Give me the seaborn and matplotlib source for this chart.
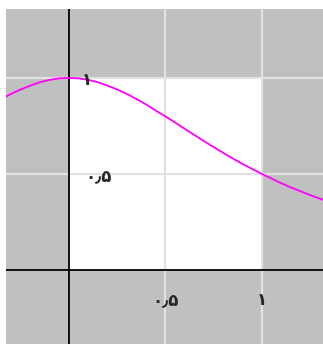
import numpy as np
import pandas as pd
import matplotlib
matplotlib.use('Agg')
import matplotlib.pyplot as plt
import seaborn as sns
from matplotlib.patches import Rectangle

# curve values
xs = [-0.35, -0.3, -0.25, -0.2, -0.15, -0.1, -0.05, 0.0, 0.05, 0.1,
      0.15, 0.2, 0.25, 0.3, 0.35, 0.4, 0.45, 0.5, 0.55, 0.6,
      0.65, 0.7, 0.75, 0.8, 0.85, 0.9, 0.95, 1.0, 1.05, 1.1,
      1.15, 1.2, 1.25, 1.3, 1.35]
ys = [0.89, 0.917, 0.94, 0.96, 0.978, 0.99, 0.998, 1.0, 0.998, 0.99,
      0.978, 0.96, 0.94, 0.917, 0.89, 0.862, 0.83, 0.80, 0.768, 0.735,
      0.703, 0.671, 0.64, 0.61, 0.58, 0.552, 0.526, 0.50, 0.476, 0.452,
      0.43, 0.41, 0.39, 0.372, 0.354]
tick_vals = [0.5, 1.0]
tick_text = ['۰٫۵', '۱']

sns.set_style('white')
plt.rcParams['font.family'] = ['DejaVu Sans']

fig = plt.figure(figsize=(3.23, 3.44), dpi=100)
ax = fig.add_axes([6 / 323, 0, 317 / 323, 335 / 344])
ax.set_facecolor('#c0c0c0')

df = pd.DataFrame({'x': xs, 'y': ys})
sns.lineplot(data=df, x='x', y='y', ax=ax, color='#ff00ff', lw=1.3, zorder=3)

ax.add_patch(Rectangle((0, 0), 1, 1, facecolor='white', edgecolor='none', zorder=0.3))
ax.set_axisbelow(True)
ax.set_xticks(tick_vals)
ax.set_yticks(tick_vals)
ax.grid(True, color='#e2e2e2', lw=1.6)
ax.tick_params(length=0, labelbottom=False, labelleft=False)
ax.axhline(0, color='black', lw=1.3, zorder=2)
ax.axvline(0, color='black', lw=1.3, zorder=2)

ax.set_xlim(-0.326, 1.316)
ax.set_ylim(-0.385, 1.359)
ax.set_xlabel('')
ax.set_ylabel('')
for s in ax.spines.values():
    s.set_visible(False)

for v, t in zip(tick_vals, tick_text):
    ax.text(v, -0.155, t, ha='center', va='center', fontsize=12, fontweight='bold', zorder=4)
ax.text(0.155, 0.49, tick_text[0], ha='center', va='center', fontsize=12, fontweight='bold', zorder=4)
ax.text(0.095, 0.99, tick_text[1], ha='center', va='center', fontsize=12, fontweight='bold', zorder=4)

fig.savefig('out.png', dpi=100)
